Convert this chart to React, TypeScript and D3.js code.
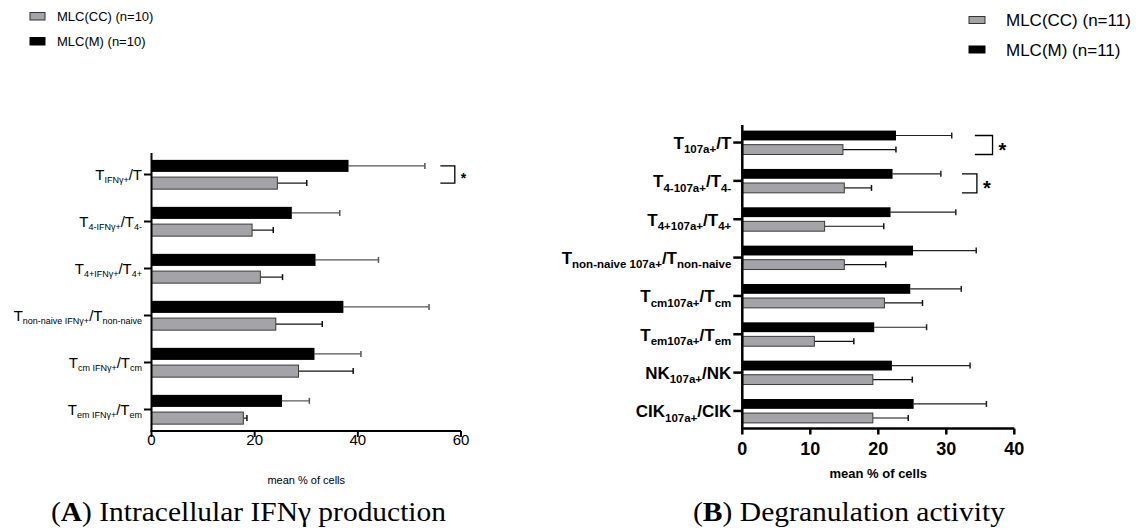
import React from "react";
import * as d3 from "d3";

// categories (labels use _{...} for subscripts)
const catsA = [
  "T_{IFNγ+}/T",
  "T_{4-IFNγ+}/T_{4-}",
  "T_{4+IFNγ+}/T_{4+}",
  "T_{non-naive IFNγ+}/T_{non-naive}",
  "T_{cm IFNγ+}/T_{cm}",
  "T_{em IFNγ+}/T_{em}",
];
const catsB = [
  "T_{107a+}/T",
  "T_{4-107a+}/T_{4-}",
  "T_{4+107a+}/T_{4+}",
  "T_{non-naive 107a+}/T_{non-naive}",
  "T_{cm107a+}/T_{cm}",
  "T_{em107a+}/T_{em}",
  "NK_{107a+}/NK",
  "CIK_{107a+}/CIK",
];

// panel A values
const meanA_M = [38.2, 27.2, 31.8, 37.2, 31.6, 25.3];
const sdA_M = [14.8, 9.3, 12.2, 16.6, 9.0, 5.3];
const meanA_CC = [24.4, 19.5, 21.1, 24.1, 28.5, 17.8];
const sdA_CC = [5.7, 4.1, 4.3, 9.0, 10.6, 0.7];

// panel B values
const meanB_M = [22.6, 22.1, 21.8, 25.1, 24.7, 19.4, 22.0, 25.2];
const sdB_M = [8.2, 7.1, 9.6, 9.3, 7.5, 7.7, 11.5, 10.7];
const meanB_CC = [14.8, 15.0, 12.1, 15.0, 20.9, 10.6, 19.2, 19.2];
const sdB_CC = [7.8, 4.0, 8.7, 6.1, 5.6, 5.8, 5.8, 5.2];

const ticksA = [0, 20, 40, 60];
const ticksB = [0, 10, 20, 30, 40];

// significance brackets: category index, x-extent in axis units
const sigA = [{ cat: 0, from: 56, to: 58.8 }];
const sigB = [
  { cat: 0, from: 34.2, to: 36.8 },
  { cat: 1, from: 32.3, to: 34.5 },
];

const legendA = ["MLC(CC) (n=10)", "MLC(M) (n=10)"];
const legendB = ["MLC(CC) (n=11)", "MLC(M) (n=11)"];
const seriesKeys = ["M", "CC"];

const GRAY = "#a3a3a8";
const SANS = "'Liberation Sans', Arial, sans-serif";
const SERIF = "'Liberation Serif', 'Times New Roman', serif";

function parseLabel(s: string) {
  return s
    .split(/(_\{[^}]*\})/)
    .filter((p) => p.length)
    .map((p) =>
      p.startsWith("_{") ? { t: p.slice(2, -1), sub: true } : { t: p, sub: false }
    );
}

type PanelProps = {
  cats: string[];
  mean: number[][];
  sd: number[][];
  ticks: number[];
  domainMax: number;
  xr: [number, number];
  yr: [number, number];
  sig: { cat: number; from: number; to: number }[];
  bold: boolean;
  baseSize: number;
  subSize: number;
  subShift: number;
  tickSize: number;
  axisW: number;
  errM: string;
  xTitleY: number;
  xTitleSize: number;
  starSize: number;
  bracketToBottom: boolean;
  tickLabelY: number;
};

function Panel(p: PanelProps) {
  const x = d3.scaleLinear().domain([0, p.domainMax]).range(p.xr);
  const y = d3
    .scaleBand<string>()
    .domain(p.cats)
    .range(p.yr)
    .paddingInner(0.377)
    .paddingOuter(0.146);
  const sub = d3
    .scaleBand<string>()
    .domain(seriesKeys)
    .range([0, y.bandwidth()])
    .paddingInner(0.3);
  const bw = sub.bandwidth();
  const x0 = x(0);
  const yBottom = p.yr[1];
  const weight = p.bold ? "bold" : "normal";
  const fills = [ "#000", GRAY ];
  const errCols = [p.errM, "#111"];

  return (
    <g>
      {p.cats.map((c, i) => {
        const gy = y(c)!;
        return (
          <g key={c}>
            {seriesKeys.map((k, s) => {
              const by = gy + sub(k)!;
              const m = p.mean[s][i];
              const e = m + p.sd[s][i];
              const cy = by + bw / 2;
              return (
                <g key={k}>
                  <line x1={x(m)} x2={x(e)} y1={cy} y2={cy} stroke={errCols[s]} strokeWidth={1.2} />
                  <line x1={x(e)} x2={x(e)} y1={cy - 3} y2={cy + 3} stroke={errCols[s]} strokeWidth={1.5} />
                  <rect
                    x={x0}
                    y={by}
                    width={x(m) - x0}
                    height={bw}
                    fill={fills[s]}
                    stroke={s === 1 ? "#3a3a3a" : "none"}
                    strokeWidth={1}
                  />
                </g>
              );
            })}
            <line x1={x0 - p.tickSize} x2={x0} y1={gy + y.bandwidth() / 2} y2={gy + y.bandwidth() / 2} stroke="#000" strokeWidth={p.axisW} />
            <text
              x={x0 - p.tickSize - 2}
              y={gy + y.bandwidth() / 2 + p.baseSize * 0.37}
              textAnchor="end"
              fontFamily={SANS}
              fontWeight={weight}
              fontSize={p.baseSize}
            >
              {parseLabel(c).map((seg, j, arr) => {
                const prevSub = j > 0 && arr[j - 1].sub;
                const dy = seg.sub ? p.subShift : prevSub ? -p.subShift : 0;
                return (
                  <tspan key={j} dy={dy} fontSize={seg.sub ? p.subSize : p.baseSize}>
                    {seg.t}
                  </tspan>
                );
              })}
            </text>
          </g>
        );
      })}
      {/* axes */}
      <line x1={x0} x2={x0} y1={p.yr[0]} y2={yBottom} stroke="#000" strokeWidth={p.axisW} />
      <line x1={x0 - p.axisW / 2} x2={p.xr[1]} y1={yBottom} y2={yBottom} stroke="#000" strokeWidth={p.axisW} />
      {p.ticks.map((t) => (
        <g key={t}>
          <line x1={x(t)} x2={x(t)} y1={yBottom} y2={yBottom + 6} stroke="#000" strokeWidth={p.axisW} />
          <text
            x={x(t)}
            y={p.tickLabelY}
            textAnchor="middle"
            fontFamily={SANS}
            fontWeight={weight}
            fontSize={p.bold ? 18 : 15}
          >
            {t}
          </text>
        </g>
      ))}
      <text
        x={(p.xr[0] + p.xr[1]) / 2}
        y={p.xTitleY}
        textAnchor="middle"
        fontFamily={SANS}
        fontWeight={weight}
        fontSize={p.xTitleSize}
      >
        mean % of cells
      </text>
      {p.sig.map((s) => {
        const gy = y(p.cats[s.cat])!;
        const top = gy + sub("M")! + bw / 2;
        const bot = gy + sub("CC")! + (p.bracketToBottom ? bw : bw / 2);
        const mid = (top + bot) / 2 + 1;
        return (
          <g key={s.cat}>
            <path
              d={`M${x(s.from)},${top}H${x(s.to)}V${bot}H${x(s.from)}`}
              fill="none"
              stroke="#000"
              strokeWidth={1.3}
            />
            <text
              x={x(s.to) + 6}
              y={mid + p.starSize * 0.55}
              fontFamily={SANS}
              fontWeight="bold"
              fontSize={p.starSize}
            >
              *
            </text>
          </g>
        );
      })}
    </g>
  );
}

function Legend({ labels, x, y, w, h, gap, size, tx }: any) {
  const cols = [GRAY, "#000"];
  return (
    <g>
      {labels.map((l: string, i: number) => (
        <g key={l}>
          <rect
            x={x}
            y={y + i * gap}
            width={w}
            height={h}
            fill={cols[i]}
            stroke={i === 0 ? "#333" : "#000"}
            strokeWidth={1}
          />
          <text x={tx} y={y + i * gap + h / 2 + size * 0.36} fontFamily={SANS} fontSize={size}>
            {l}
          </text>
        </g>
      ))}
    </g>
  );
}

export default function App() {
  return (
    <svg
      width={1146}
      height={530}
      style={{ position: "absolute", left: 0, top: 0, background: "#fff" }}
    >
      <Legend labels={legendA} x={30} y={12.5} w={15} h={7.5} gap={25} size={13} tx={57} />
      <Legend labels={legendB} x={969} y={16.5} w={16} h={7} gap={29.5} size={17} tx={1006} />
      <Panel
        cats={catsA}
        mean={[meanA_M, meanA_CC]}
        sd={[sdA_M, sdA_CC]}
        ticks={ticksA}
        domainMax={60}
        xr={[151.5, 461]}
        yr={[153, 431]}
        sig={sigA}
        bold={false}
        baseSize={15}
        subSize={9}
        subShift={3}
        tickSize={7.5}
        axisW={2}
        errM="#555"
        xTitleY={484}
        xTitleSize={11}
        starSize={14}
        bracketToBottom={false}
        tickLabelY={445}
      />
      <Panel
        cats={catsB}
        mean={[meanB_M, meanB_CC]}
        sd={[sdB_M, sdB_CC]}
        ticks={ticksB}
        domainMax={40}
        xr={[742.3, 1014.3]}
        yr={[125, 428.5]}
        sig={sigB}
        bold={true}
        baseSize={17}
        subSize={11.5}
        subShift={4.5}
        tickSize={9}
        axisW={2.5}
        errM="#222"
        xTitleY={478}
        xTitleSize={13}
        starSize={20}
        bracketToBottom={true}
        tickLabelY={455}
      />
      <text x={51} y={521} fontFamily={SERIF} fontSize={27} textLength={395} lengthAdjust="spacingAndGlyphs">
        (<tspan fontWeight="bold">A</tspan>) Intracellular IFNγ production
      </text>
      <text x={693} y={521} fontFamily={SERIF} fontSize={27} textLength={312} lengthAdjust="spacingAndGlyphs">
        (<tspan fontWeight="bold">B</tspan>) Degranulation activity
      </text>
    </svg>
  );
}
